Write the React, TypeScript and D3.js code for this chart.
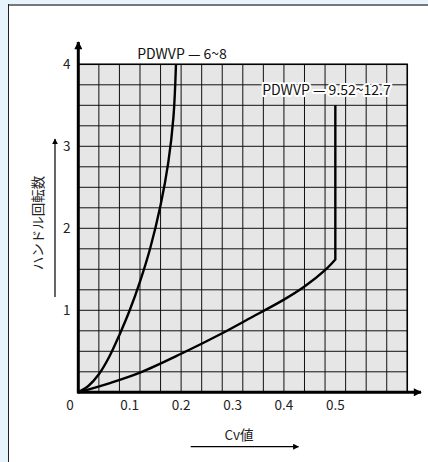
import React from "react";
import * as d3 from "d3";

const xTicks = [0.1, 0.2, 0.3, 0.4, 0.5];
const yTicks = [1, 2, 3, 4];
const xMax = 0.64;
const yMax = 4;
const xGridStep = 0.04;
const yGridStep = 0.25;

const seriesSmallCv = [0, 0.02, 0.04, 0.06, 0.08, 0.1, 0.12, 0.14, 0.16, 0.175, 0.185, 0.19];
const seriesSmallTurns = [0, 0.08, 0.22, 0.43, 0.7, 1.0, 1.35, 1.76, 2.28, 2.8, 3.35, 4.0];
const seriesLargeCv = [0, 0.06, 0.12, 0.2, 0.28, 0.33, 0.4, 0.44, 0.48, 0.5];
const seriesLargeTurns = [0, 0.11, 0.24, 0.47, 0.72, 0.89, 1.13, 1.29, 1.49, 1.62];
const seriesLargeTopTurns = 3.5;

const labelSmall = "PDWVP — 6~8";
const labelLarge = "PDWVP — 9.52~12.7";
const yTitle = "ハンドル回転数";
const xTitle = "Cv値";

const FONT = "'Noto Sans CJK JP', 'Noto Sans', sans-serif";

export default function App() {
  const W = 428, H = 462;
  const x = d3.scaleLinear().domain([0, xMax]).range([78.3, 407.3]);
  const y = d3.scaleLinear().domain([0, yMax]).range([392.3, 64.3]);

  const xGrid = d3.range(0, xMax + 1e-9, xGridStep);
  const yGrid = d3.range(0, yMax + 1e-9, yGridStep);

  const small = seriesSmallCv.map((c, i) => [c, seriesSmallTurns[i]] as [number, number]);
  const large = seriesLargeCv.map((c, i) => [c, seriesLargeTurns[i]] as [number, number]);
  const lastLarge = large[large.length - 1];

  const smooth = d3.line<[number, number]>().x(d => x(d[0])).y(d => y(d[1])).curve(d3.curveCatmullRom.alpha(0.5));
  const largePath =
    (smooth(large) || "") + `L${x(lastLarge[0])},${y(seriesLargeTopTurns)}`;

  const x0 = x(0), y0 = y(0);

  return (
    <svg width={W} height={H} style={{ position: "absolute", left: 0, top: 0 }} fontFamily={FONT}>
      <defs>
        <marker id="ah" viewBox="0 0 10 10" refX="9" refY="5" markerWidth="6" markerHeight="6" orient="auto" markerUnits="userSpaceOnUse">
          <path d="M0,0 L10,5 L0,10 z" fill="#000" />
        </marker>
        <marker id="ahBig" viewBox="0 0 10 10" refX="9" refY="5" markerWidth="9" markerHeight="8" orient="auto" markerUnits="userSpaceOnUse">
          <path d="M0,0 L10,5 L0,10 z" fill="#000" />
        </marker>
      </defs>
      <rect x={0} y={0} width={W} height={H} fill="#e8f4fc" />
      <rect x={8} y={4} width={W - 8} height={H - 4} fill="#fff" />
      <line x1={8} x2={W} y1={5} y2={5} stroke="#777" strokeWidth={2} />
      <line x1={8.5} x2={8.5} y1={4} y2={H} stroke="#222" strokeWidth={1} />

      {/* grid */}
      <rect x={x0} y={y(yMax)} width={x(xMax) - x0} height={y0 - y(yMax)} fill="#e6e6e6" />
      {xGrid.map((g, i) => (
        <line key={"gx" + i} x1={x(g)} x2={x(g)} y1={y(0)} y2={y(yMax)} stroke="#111" strokeWidth={1} />
      ))}
      {yGrid.map((g, i) => (
        <line key={"gy" + i} x1={x0} x2={x(xMax)} y1={y(g)} y2={y(g)} stroke="#111" strokeWidth={1} />
      ))}
      <rect x={x0} y={y(yMax)} width={x(xMax) - x0} height={y0 - y(yMax)} fill="none" stroke="#000" strokeWidth={1.5} />

      {/* curves */}
      <path d={smooth(small) || ""} fill="none" stroke="#000" strokeWidth={2.4} />
      <path d={largePath} fill="none" stroke="#000" strokeWidth={2.4} strokeLinejoin="miter" />

      {/* axes */}
      <line x1={x0} x2={x0} y1={y0 + 1} y2={42} stroke="#000" strokeWidth={3} markerEnd="url(#ahBig)" />
      <line x1={x0 - 1} x2={421} y1={y0} y2={y0} stroke="#000" strokeWidth={3} markerEnd="url(#ahBig)" />

      {/* tick labels */}
      {yTicks.map(t => (
        <text key={"yt" + t} x={70.5} y={y(t)} dy="0.36em" textAnchor="end" fontSize={13.5} fill="#222">{t}</text>
      ))}
      <text x={70} y={410} textAnchor="middle" fontSize={13.5} fill="#222">0</text>
      {xTicks.map(t => (
        <text key={"xt" + t} x={x(t)} y={410} textAnchor="middle" fontSize={13.5} fill="#222">{t}</text>
      ))}

      {/* titles */}
      <text transform="translate(43,223) rotate(-90)" textAnchor="middle" fontSize={13.5} fill="#222">{yTitle}</text>
      <line x1={55} x2={55} y1={297} y2={139} stroke="#000" strokeWidth={1.2} markerEnd="url(#ah)" />
      <text x={239} y={440} textAnchor="middle" fontSize={13.5} fill="#222">{xTitle}</text>
      <line x1={190.7} x2={298.5} y1={446.7} y2={446.7} stroke="#000" strokeWidth={1.2} markerEnd="url(#ah)" />

      {/* series labels */}
      <text x={182} y={59} textAnchor="middle" fontSize={14} fill="#111">{labelSmall}</text>
      <text x={326.5} y={95} textAnchor="middle" fontSize={14} fill="#111" stroke="#fff" strokeWidth={4} strokeLinejoin="round" style={{ paintOrder: "stroke" }}>{labelLarge}</text>
    </svg>
  );
}
